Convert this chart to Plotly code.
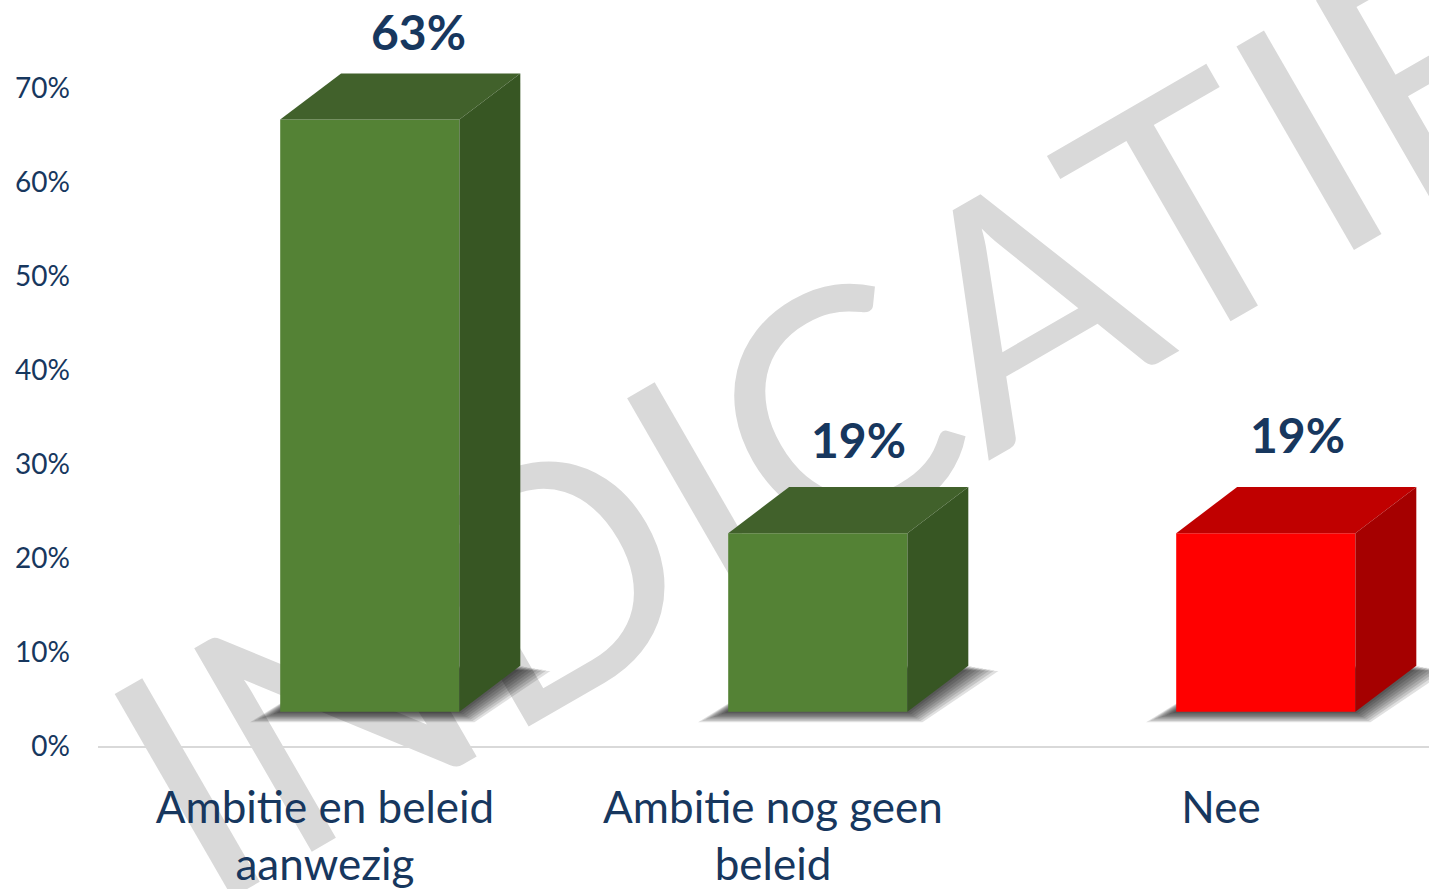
import plotly.graph_objects as go

# ---- data ----
categories = ["Ambitie en beleid<br>aanwezig", "Ambitie nog geen<br>beleid", "Nee"]
values = [0.63, 0.19, 0.19]
front_colors = ["#548235", "#548235", "#FF0000"]
top_colors = ["#41612B", "#41612B", "#C00000"]
side_colors = ["#375623", "#375623", "#A50000"]
y_ticks = [0, 0.1, 0.2, 0.3, 0.4, 0.5, 0.6, 0.7]
watermark_text = "INDICATIE"

# ---- 3D box geometry (data units) ----
BASE = 0.037        # floor lift of front face
OFF = -0.1          # front face left edge relative to category
W = 0.4             # front face width
DX = 0.136          # depth offset in x
DY = 0.049          # depth offset in y

TXT = "#17375E"
FONT = "Lato"

fig = go.Figure()


def poly(xs, ys, color):
    fig.add_trace(go.Scatter(x=xs + xs[:1], y=ys + ys[:1], mode="lines", fill="toself",
                             fillcolor=color, line=dict(width=0),
                             hoverinfo="skip", showlegend=False))


# soft shadows (layered)
for i, v in enumerate(values):
    x0 = i + OFF
    x1 = x0 + W
    for k in range(1, 9):
        ex = 0.0084 * k
        ey = 0.0014 * k
        poly([x0 - ex, x1 + ex * 0.5, x1 + DX + ex, x0 + DX],
             [BASE - ey, BASE - ey, BASE + DY - ey * 0.5, BASE + DY],
             "rgba(0,0,0,0.12)")

# boxes: front, top, side
for i, v in enumerate(values):
    x0 = i + OFF
    x1 = x0 + W
    yt = BASE + v
    poly([x0, x1, x1, x0], [BASE, BASE, yt, yt], front_colors[i])
    poly([x0, x1, x1 + DX, x0 + DX], [yt, yt, yt + DY, yt + DY], top_colors[i])
    poly([x1, x1 + DX, x1 + DX, x1], [BASE, BASE + DY, yt + DY, yt], side_colors[i])

# data labels (slight perspective drift across categories)
for i, v in enumerate(values):
    fig.add_annotation(x=i + 0.209 - 0.019 * i, y=BASE + v + DY, xref="x", yref="y",
                       text=f"{v:.0%}", showarrow=False, yanchor="middle",
                       yshift=42 + 5.5 * i,
                       font=dict(family=FONT, size=48, color=TXT, weight="bold"))

# watermark (behind everything)
cx, cy = 0.545, 0.467
fig.add_shape(type="rect", xref="paper", yref="paper",
              x0=cx - 0.005, x1=cx + 0.005, y0=cy - 0.005, y1=cy + 0.005,
              line=dict(width=0), fillcolor="rgba(0,0,0,0)", layer="below",
              label=dict(text=watermark_text, textangle=-30, textposition="middle center",
                         font=dict(family=FONT, size=328, color="#D9D9D9")))

fig.update_layout(
    width=1429, height=889,
    margin=dict(l=98, r=0, t=0, b=129),
    paper_bgcolor="white", plot_bgcolor="rgba(0,0,0,0)",
    font=dict(family=FONT, color=TXT),
)
fig.update_xaxes(range=[-0.5067, 2.4643], tickvals=list(range(len(categories))),
                 ticktext=categories, showgrid=False, zeroline=False, showline=False,
                 ticks="", ticklabelstandoff=18, automargin=False,
                 tickfont=dict(family=FONT, size=44, color=TXT))
fig.update_yaxes(range=[-0.01436, 0.7942], tickvals=y_ticks, tickformat=".0%",
                 showgrid=False, zeroline=True, zerolinecolor="#D9D9D9", zerolinewidth=2,
                 showline=False, ticks="", ticklabelstandoff=27, automargin=False,
                 tickfont=dict(family=FONT, size=28, color=TXT))

fig.write_html("out.html", config={"displayModeBar": False},
               post_script="document.body.style.margin='0';document.body.style.overflow='hidden';")
